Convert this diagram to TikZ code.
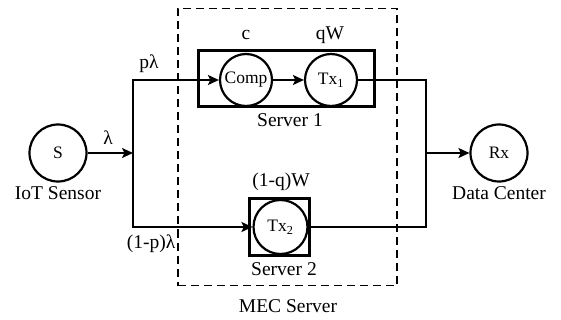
\documentclass[tikz,border=0pt]{standalone}
\usepackage{fontspec}
\setmainfont{Liberation Serif}
\usetikzlibrary{arrows.meta, positioning}

\begin{document}
\begin{tikzpicture}[x=1pt, y=-1pt,
    qn/.style={circle, draw, line width=2.2pt, minimum size=52pt, inner sep=0pt, font=\fontsize{17.5}{19}\selectfont},
    qnb/.style={qn, minimum size=57pt},
    srvbox/.style={draw, line width=3pt, inner sep=0pt},
    flow/.style={line width=2.8pt, -{Stealth[length=11pt, width=10pt, inset=2.5pt]}},
    link/.style={line width=2.8pt},
    lbl/.style={font=\fontsize{19.5}{22}\selectfont, inner sep=1pt}]
    \useasboundingbox (0,0) rectangle (561,320);
    % outer MEC box and the two servers
    \node[draw, dashed, dash pattern=on 8pt off 5pt, line width=1.8pt, minimum width=219pt, minimum height=277pt, inner sep=0pt] (mec) at (287.5,147) {};
    \node[srvbox, minimum width=176pt, minimum height=56pt] (srv1) at (286,79) {};
    \node[srvbox, minimum width=60pt, minimum height=57pt] (srv2) at (279.5,227) {};
    \node[qnb] (S) at (58,153) {S};
    \node[qnb] (Rx) at (499,153) {Rx};
    \node[qn] (Comp) at (246,80) {Comp};
    \node[qn] (Tx1) at (331,80) {Tx\textsubscript{1}};
    \node[qn, minimum size=54pt] (Tx2) at (280.5,227) {Tx\textsubscript{2}};
    \coordinate (split) at (133,153);
    \coordinate (merge) at (426,153);
    \draw[flow] (S) -- (split);
    \draw[flow] (split) |- (Comp);
    \draw[flow] (split) |- (Tx2);
    \draw[flow] (Comp) -- (Tx1);
    \draw[link] (Tx1) -| (merge);
    \draw[link] (Tx2) -| (merge);
    \draw[flow] (merge) -- (Rx);
    % labels
    \node[lbl, below=3pt of S] (sname) {IoT Sensor};
    \node[lbl, below=3pt of Rx] (rname) {Data Center};
    \node[lbl] (lam) at (108,138) {λ};
    \node[lbl] (plam) at (149,64) {pλ};
    \node[lbl] (qlam) at (151,244) {(1-p)λ};
    \node[lbl] (cval) at (246,35) {c};
    \node[lbl] (qw) at (330,35) {qW};
    \node[lbl] (qwb) at (281,182) {(1-q)W};
    \node[lbl] (s1) at (290,120) {Server 1};
    \node[lbl] (s2) at (284,269) {Server 2};
    \node[lbl] (mecname) at (288,306) {MEC Server};
\end{tikzpicture}
\end{document}
